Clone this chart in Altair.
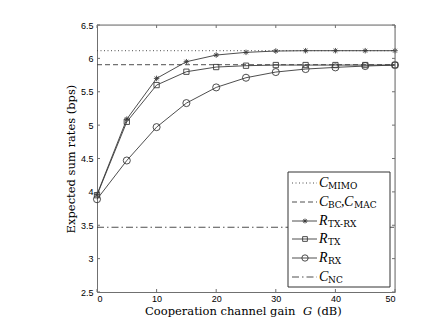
import altair as alt
import pandas as pd

# ---- data ----
gain_db = [0, 5, 10, 15, 20, 25, 30, 35, 40, 45, 50]
r_txrx = [3.96, 5.09, 5.70, 5.95, 6.05, 6.09, 6.11, 6.115, 6.115, 6.115, 6.115]
r_tx = [3.95, 5.05, 5.60, 5.80, 5.87, 5.89, 5.90, 5.90, 5.90, 5.90, 5.90]
r_rx = [3.89, 4.47, 4.97, 5.33, 5.565, 5.71, 5.795, 5.84, 5.865, 5.885, 5.90]
c_mimo = 6.115
c_bc = 5.905
c_nc = 3.47
x_ticks = [0, 10, 20, 30, 40, 50]
y_ticks = [2.5, 3, 3.5, 4, 4.5, 5, 5.5, 6, 6.5]
x_title_parts = ["Cooperation channel gain", "G", "(dB)"]
y_title = "Expected sum rates (bps)"

# ---- styling ----
W, H = 298, 267
LINE = "#3a3a3a"
AXC = "#707070"
SERIF = "DejaVu Serif"
MAINF = "Liberation Serif"
SANS = "Liberation Sans"
ASTERISK = "M0,-1L0,1M-1,0L1,0M-0.7,-0.7L0.7,0.7M-0.7,0.7L0.7,-0.7"

xs = alt.Scale(domain=[0, 50], nice=False, zero=False)
ys = alt.Scale(domain=[2.5, 6.5], nice=False, zero=False)

xaxis = alt.Axis(
    values=x_ticks, ticks=False, grid=False, domain=True, domainColor=AXC,
    labelFont=SANS, labelFontSize=9, labelColor="#000", labelPadding=2, title=None)
yaxis = alt.Axis(
    values=y_ticks, format="~g", ticks=False, grid=False, domain=True, domainColor=AXC,
    labelFont=SANS, labelFontSize=9, labelColor="#000", labelPadding=4,
    title=y_title, titleFont=SERIF, titleFontSize=11.5,
    titleFontWeight="normal", titleColor="#000", titlePadding=4)


def XQ(f):
    return alt.X(f, scale=xs, axis=xaxis)


def YQ(f):
    return alt.Y(f, scale=ys, axis=yaxis)


curves = pd.DataFrame({
    "g": gain_db * 3,
    "v": r_txrx + r_tx + r_rx,
    "s": ["txrx"] * 11 + ["tx"] * 11 + ["rx"] * 11,
})
consts = pd.DataFrame({"g": [0, 0, 0], "g1": [50, 50, 50], "v": [c_mimo, c_bc, c_nc],
                       "s": ["mimo", "bc", "nc"]})

base = alt.Chart(curves)
layers = []

# constant reference lines
dash = {"mimo": [1, 2.5], "bc": [5, 3], "nc": [7, 3, 1.5, 3]}
for key in ["mimo", "bc", "nc"]:
    layers.append(alt.Chart(consts[consts.s == key]).mark_rule(
        color=LINE, strokeWidth=0.9, strokeDash=dash[key]).encode(
        x=XQ("g:Q"), x2="g1:Q", y=YQ("v:Q")))

# inward ticks on all four sides
tick_x = pd.DataFrame({"g": x_ticks})
tick_y = pd.DataFrame({"v": y_ticks})
TL = 3
layers += [
    alt.Chart(tick_x).mark_rule(color=AXC, strokeWidth=1).encode(
        x=XQ("g:Q"), y=alt.value(H), y2=alt.value(H - TL)),
    alt.Chart(tick_x).mark_rule(color=AXC, strokeWidth=1).encode(
        x=XQ("g:Q"), y=alt.value(0), y2=alt.value(TL)),
    alt.Chart(tick_y).mark_rule(color=AXC, strokeWidth=1).encode(
        y=YQ("v:Q"), x=alt.value(0), x2=alt.value(TL)),
    alt.Chart(tick_y).mark_rule(color=AXC, strokeWidth=1).encode(
        y=YQ("v:Q"), x=alt.value(W), x2=alt.value(W - TL)),
]

shape = {"txrx": ASTERISK, "tx": "square", "rx": "circle"}
msize = {"txrx": 30, "tx": 28, "rx": 50}
for key in ["rx", "tx", "txrx"]:
    d = base.transform_filter(alt.datum.s == key)
    layers.append(d.mark_line(color=LINE, strokeWidth=0.9).encode(
        x=XQ("g:Q"), y=YQ("v:Q")))
    layers.append(d.mark_point(shape=shape[key], size=msize[key], filled=False,
                               color=LINE, strokeWidth=0.9, opacity=1).encode(
        x=XQ("g:Q"), y=YQ("v:Q")))

# frame (top/right edges)
one = pd.DataFrame({"a": [0]})
layers.append(alt.Chart(one).mark_rule(color=AXC, strokeWidth=1).encode(
    x=alt.value(0), x2=alt.value(W), y=alt.value(0)))
layers.append(alt.Chart(one).mark_rule(color=AXC, strokeWidth=1).encode(
    x=alt.value(W), y=alt.value(0), y2=alt.value(H)))

# x-axis title, with italic G
for txt, px, style in zip(x_title_parts, [48, 206, 220], ["normal", "italic", "normal"]):
    layers.append(alt.Chart(one).mark_text(
        text=txt, font=SERIF, fontSize=11.5, fontStyle=style, align="left",
        baseline="alphabetic", color="#000").encode(x=alt.value(px), y=alt.value(H + 23)))

# ---- legend (drawn manually) ----
LX0, LX1, LY0, LY1 = 191, 293, 147, 262
layers.append(alt.Chart(one).mark_rect(fill="white", stroke="#333", strokeWidth=1).encode(
    x=alt.value(LX0), x2=alt.value(LX1), y=alt.value(LY0), y2=alt.value(LY1)))

entries = [
    ("mimo", [("C", 222, "main"), ("MIMO", 231, "sub")]),
    ("bc", [("C", 222, "main"), ("BC", 231, "sub"), (",", 244, "main"),
            ("C", 247, "main"), ("MAC", 257, "sub")]),
    ("txrx", [("R", 222, "main"), ("TX-RX", 231, "sub")]),
    ("tx", [("R", 222, "main"), ("TX", 231, "sub")]),
    ("rx", [("R", 222, "main"), ("RX", 231, "sub")]),
    ("nc", [("C", 222, "main"), ("NC", 231, "sub")]),
]
row_y = [158, 177, 196, 214, 233, 252]
for (key, parts), yy in zip(entries, row_y):
    dstyle = dash.get(key)
    rule = alt.Chart(one).mark_rule(color=LINE, strokeWidth=0.9,
                                    **({"strokeDash": dstyle} if dstyle else {}))
    layers.append(rule.encode(x=alt.value(195), x2=alt.value(220), y=alt.value(yy)))
    if key in shape:
        layers.append(alt.Chart(one).mark_point(
            shape=shape[key], size=msize[key] * 0.8, filled=False, color=LINE,
            strokeWidth=0.9, opacity=1).encode(x=alt.value(208), y=alt.value(yy)))
    for txt, px, kind in parts:
        if kind == "sub":
            m = alt.Chart(one).mark_text(text=txt, font=SERIF, fontSize=9, align="left",
                                         baseline="alphabetic", color="#000")
            layers.append(m.encode(x=alt.value(px), y=alt.value(yy + 6)))
        else:
            m = alt.Chart(one).mark_text(text=txt, font=MAINF, fontSize=14,
                                         fontStyle="normal" if txt == "," else "italic",
                                         align="left", baseline="alphabetic", color="#000")
            layers.append(m.encode(x=alt.value(px), y=alt.value(yy + 4)))

chart = alt.layer(*layers).properties(
    width=W, height=H,
    autosize=alt.AutoSizeParams(type="none"),
    padding={"left": 89, "top": 17, "right": 33, "bottom": 27},
).configure_view(stroke=None).configure(background="white")

chart.save("out.html", embed_options={"renderer": "svg", "actions": False})
